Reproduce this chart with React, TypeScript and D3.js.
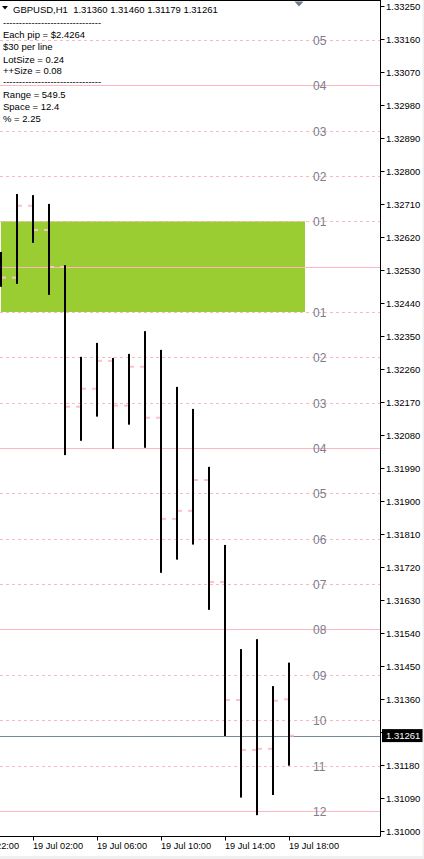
import React from "react";
import * as d3 from "d3";

// ---- data ----
const barHours = [0, 1, 2, 3, 4, 5, 6, 7, 8, 9, 10, 11, 12, 13, 14, 15, 16, 17, 18];
const opens = [1.3256, 1.3251, 1.32706, 1.3264, 1.32539, 1.32158, 1.32207, 1.32283, 1.32161, 1.32267, 1.32128, 1.31852, 1.31874, 1.31958, 1.3168, 1.31358, 1.31222, 1.31225, 1.3136];
const highs = [1.3258, 1.32738, 1.32735, 1.32711, 1.32544, 1.32294, 1.32332, 1.32291, 1.32302, 1.32364, 1.32313, 1.32212, 1.32152, 1.31994, 1.31781, 1.31497, 1.31524, 1.31396, 1.3146];
const lows = [1.32485, 1.32493, 1.32605, 1.32463, 1.32026, 1.32065, 1.32131, 1.32043, 1.32109, 1.32046, 1.31705, 1.31741, 1.31782, 1.31604, 1.3126, 1.31092, 1.31044, 1.31099, 1.31179];
const closes = [1.3251, 1.32706, 1.3264, 1.32539, 1.32158, 1.32207, 1.32283, 1.32161, 1.32267, 1.32128, 1.31852, 1.31874, 1.31958, 1.3168, 1.31358, 1.31222, 1.31225, 1.31356, 1.31261];

const priceTicks = [1.3325, 1.3316, 1.3307, 1.3298, 1.3289, 1.328, 1.3271, 1.3262, 1.3253, 1.3244, 1.3235, 1.3226, 1.3217, 1.3208, 1.3199, 1.319, 1.3181, 1.3172, 1.3163, 1.3154, 1.3145, 1.3136, 1.3127, 1.3118, 1.3109, 1.31];
const timeTickHours = [-2, 2, 6, 10, 14, 18];
const timeTickLabels = ["18 Jul 22:00", "19 Jul 02:00", "19 Jul 06:00", "19 Jul 10:00", "19 Jul 14:00", "19 Jul 18:00"];

const levelCenter = 1.3254;
const levelSpace = 0.001237;
const levelsAbove = [1, 2, 3, 4, 5];
const levelsBelow = [1, 2, 3, 4, 5, 6, 7, 8, 9, 10, 11, 12];
const boxHours = [0, 19];

const currentPrice = 1.31261;
const headerText = "GBPUSD,H1  1.31360 1.31460 1.31179 1.31261";
const infoLines = [
  "-------------------------------",
  "Each pip = $2.4264",
  "$30 per line",
  "LotSize = 0.24",
  "++Size = 0.08",
  "-------------------------------",
  "Range = 549.5",
  "Space = 12.4",
  "% = 2.25",
];

export default function App() {
  const W = 424;
  const H = 859;
  const axisX = 380.5;
  const axisY = 836.5;
  const y = d3.scaleLinear().domain([1.31, 1.3325]).range([831.3, 6.3]);
  const x = d3.scaleLinear().domain([0, 1]).range([1, 17]);
  const font = "Tahoma, 'Liberation Sans', Arial, sans-serif";
  const pink = "#ffb6c1";
  const tickPink = "#ffc0cb";

  const levels: { p: number; label: string; solid: boolean }[] = [];
  levels.push({ p: levelCenter, label: "", solid: true });
  levelsAbove.forEach((k) =>
    levels.push({ p: levelCenter + k * levelSpace, label: String(k).padStart(2, "0"), solid: k % 4 === 0 })
  );
  levelsBelow.forEach((k) =>
    levels.push({ p: levelCenter - k * levelSpace, label: String(k).padStart(2, "0"), solid: k % 4 === 0 })
  );

  const infoY = [23, 34.5, 47, 59.3, 70.7, 81.7, 95, 106.7, 118.3];
  const yCur = y(currentPrice);

  return (
    <div style={{ position: "fixed", left: 0, top: 0, width: W, height: H, background: "#fff" }}>
      <svg width={W} height={H} style={{ display: "block" }} fontFamily={font}>
        <defs>
          <clipPath id="plot">
            <rect x={0} y={0} width={axisX} height={axisY} />
          </clipPath>
        </defs>
        <rect x={0} y={0} width={W} height={H} fill="#fff" />
        <g clipPath="url(#plot)">
          {/* green box */}
          <rect
            x={x(boxHours[0])}
            width={x(boxHours[1]) - x(boxHours[0])}
            y={y(levelCenter + levelSpace)}
            height={y(levelCenter - levelSpace) - y(levelCenter + levelSpace)}
            fill="#9acd32"
          />
          {/* levels */}
          {levels.map((l, i) => (
            <line
              key={"l" + i}
              x1={0}
              x2={axisX}
              y1={Math.round(y(l.p)) + 0.5}
              y2={Math.round(y(l.p)) + 0.5}
              stroke={pink}
              strokeWidth={1}
              strokeDasharray={l.solid ? undefined : "3,3"}
            />
          ))}
          {levels
            .filter((l) => l.label)
            .map((l, i) => (
              <text
                key={"t" + i}
                x={313}
                y={Math.round(y(l.p)) + 0.5}
                dy="0.36em"
                fontSize={12}
                fill="#7d7d8e"
                fontFamily="'Liberation Sans', Arial, sans-serif"
              >
                {l.label}
              </text>
            ))}
          {/* current price line */}
          <line x1={0} x2={axisX} y1={Math.round(yCur) + 0.5} y2={Math.round(yCur) + 0.5} stroke="#778899" strokeWidth={1} />
          {/* bars */}
          {barHours.map((h, i) => {
            const cx = x(h);
            return (
              <g key={"b" + i}>
                <rect x={cx - 5} width={4} y={y(opens[i]) - 1} height={2} fill={tickPink} />
                <rect x={cx + 1} width={4} y={y(closes[i]) - 1} height={2} fill={tickPink} />
                <rect x={cx - 1} width={2} y={y(highs[i])} height={y(lows[i]) - y(highs[i])} fill="#000" />
              </g>
            );
          })}
        </g>
        {/* frame */}
        <line x1={0} x2={axisX} y1={0.5} y2={0.5} stroke="#000" />
        <line x1={axisX} x2={axisX} y1={0} y2={axisY} stroke="#000" />
        <line x1={0} x2={axisX} y1={axisY} y2={axisY} stroke="#000" />
        {/* top triangles */}
        <path d="M294.5,1.5 L303.5,1.5 L299,6.5 Z" fill="#6e7b8b" />
        <path d="M2,6 L8,6 L5,9.5 Z" fill="#000" />
        {/* price axis */}
        {priceTicks.map((p, i) => (
          <g key={"pt" + i}>
            <line x1={axisX} x2={axisX + 4} y1={Math.round(y(p)) + 0.5} y2={Math.round(y(p)) + 0.5} stroke="#000" />
            {Math.abs(y(p) - yCur) > 10 && (
              <text x={386} y={y(p)} dy="0.35em" fontSize={9.5} fill="#000">
                {p.toFixed(5)}
              </text>
            )}
          </g>
        ))}
        {/* current price label */}
        <rect x={382} y={yCur - 6.5} width={42} height={13} fill="#000" />
        <text x={386} y={yCur} dy="0.35em" fontSize={9.5} fill="#fff">
          {currentPrice.toFixed(5)}
        </text>
        {/* time axis */}
        {timeTickHours.map((h, i) => (
          <g key={"tt" + i}>
            <line x1={Math.round(x(h)) + 0.5} x2={Math.round(x(h)) + 0.5} y1={axisY} y2={axisY + 4} stroke="#000" />
            <text x={x(h)} y={846} dy="0.35em" fontSize={9.2} fill="#000">
              {timeTickLabels[i]}
            </text>
          </g>
        ))}
        {/* header and info */}
        <text x={13} y={9.3} dy="0.35em" fontSize={9.5} fill="#000" style={{ whiteSpace: "pre" }}>
          {headerText}
        </text>
        {infoLines.map((t, i) => (
          <text key={"i" + i} x={3} y={infoY[i]} dy="0.35em" fontSize={9.5} fill="#000" style={{ whiteSpace: "pre" }}>
            {t}
          </text>
        ))}
        {/* window border */}
        <rect x={0} y={856} width={W} height={3} fill="#f0f0f0" />
        <rect x={422.5} y={0} width={1.5} height={H} fill="#f0f0f0" />
      </svg>
    </div>
  );
}
